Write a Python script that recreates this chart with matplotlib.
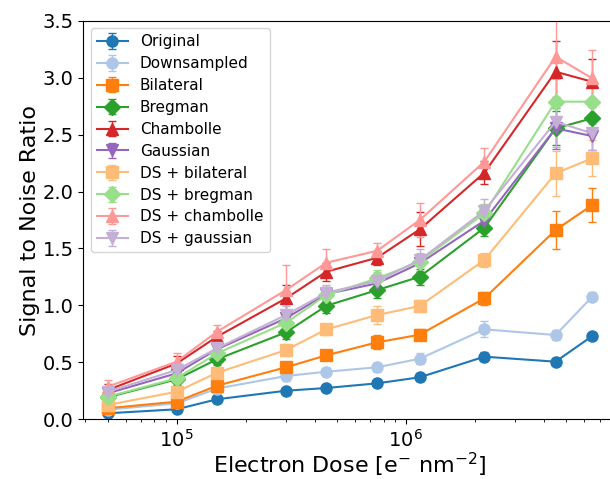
import matplotlib
matplotlib.use("Agg")
import matplotlib.pyplot as plt

dose = [5e4, 1e5, 1.5e5, 3e5, 4.5e5, 7.5e5, 1.15e6, 2.2e6, 4.5e6, 6.5e6]

labels = ["Original", "Downsampled", "Bilateral", "Bregman", "Chambolle",
          "Gaussian", "DS + bilateral", "DS + bregman", "DS + chambolle", "DS + gaussian"]

original = [0.053, 0.088, 0.176, 0.251, 0.275, 0.316, 0.369, 0.55, 0.506, 0.731]
downsampled = [0.085, 0.14, 0.27, 0.38, 0.418, 0.457, 0.532, 0.79, 0.74, 1.076]
bilateral = [0.097, 0.155, 0.295, 0.457, 0.562, 0.676, 0.743, 1.062, 1.662, 1.881]
bregman = [0.193, 0.351, 0.527, 0.764, 0.997, 1.135, 1.252, 1.682, 2.555, 2.643]
chambolle = [0.257, 0.49, 0.725, 1.062, 1.296, 1.419, 1.668, 2.165, 3.052, 2.964]
gaussian = [0.228, 0.404, 0.615, 0.887, 1.1, 1.194, 1.37, 1.744, 2.555, 2.487]
ds_bilateral = [0.126, 0.242, 0.409, 0.608, 0.79, 0.916, 0.995, 1.399, 2.16, 2.292]
ds_bregman = [0.198, 0.36, 0.579, 0.848, 1.091, 1.238, 1.384, 1.809, 2.789, 2.789]
ds_chambolle = [0.286, 0.506, 0.769, 1.135, 1.375, 1.48, 1.75, 2.262, 3.184, 2.994]
ds_gaussian = [0.242, 0.433, 0.623, 0.916, 1.112, 1.214, 1.399, 1.831, 2.613, 2.511]

original_err = [0.02, 0.02, 0.02, 0.02, 0.02, 0.02, 0.03, 0.04, 0.03, 0.03]
downsampled_err = [0.02, 0.03, 0.03, 0.04, 0.03, 0.04, 0.05, 0.07, 0.04, 0.04]
bilateral_err = [0.02, 0.03, 0.04, 0.04, 0.04, 0.06, 0.05, 0.06, 0.17, 0.15]
bregman_err = [0.04, 0.05, 0.05, 0.06, 0.06, 0.07, 0.07, 0.07, 0.15, 0.12]
chambolle_err = [0.05, 0.07, 0.05, 0.12, 0.08, 0.06, 0.15, 0.1, 0.27, 0.2]
gaussian_err = [0.04, 0.05, 0.05, 0.07, 0.06, 0.07, 0.08, 0.08, 0.18, 0.12]
ds_bilateral_err = [0.03, 0.04, 0.05, 0.05, 0.05, 0.08, 0.05, 0.06, 0.2, 0.16]
ds_bregman_err = [0.04, 0.05, 0.06, 0.08, 0.07, 0.07, 0.08, 0.08, 0.2, 0.2]
ds_chambolle_err = [0.06, 0.08, 0.06, 0.22, 0.12, 0.07, 0.15, 0.12, 0.35, 0.25]
ds_gaussian_err = [0.04, 0.05, 0.06, 0.08, 0.07, 0.08, 0.1, 0.1, 0.22, 0.15]

series = [original, downsampled, bilateral, bregman, chambolle,
          gaussian, ds_bilateral, ds_bregman, ds_chambolle, ds_gaussian]
errors = [original_err, downsampled_err, bilateral_err, bregman_err, chambolle_err,
          gaussian_err, ds_bilateral_err, ds_bregman_err, ds_chambolle_err, ds_gaussian_err]
colors = ["#1f77b4", "#aec7e8", "#ff7f0e", "#2ca02c", "#d62728",
          "#9467bd", "#ffbb78", "#98df8a", "#ff9896", "#c5b0d5"]
markers = ["o", "o", "s", "D", "^", "v", "s", "D", "^", "v"]

fig = plt.figure(figsize=(6.1, 4.79), dpi=100)
ax = fig.add_axes([0.1367, 0.1246, 0.874, 0.8322])

for y, e, c, m, lab in zip(series, errors, colors, markers, labels):
    ax.errorbar(dose, y, yerr=e, color=c, marker=m, markersize=8,
                linewidth=1.5, elinewidth=1, capsize=3, label=lab)

ax.set_xscale("log")
ax.set_ylim(0, 3.5)
ax.set_xlim(3.92e4, 8.3e6)
ax.set_yticks([0, 0.5, 1.0, 1.5, 2.0, 2.5, 3.0, 3.5])
ax.tick_params(labelsize=14)
ax.set_xlabel(r"Electron Dose [e$^{-}$ nm$^{-2}$]", fontsize=16, labelpad=0)
ax.set_ylabel("Signal to Noise Ratio", fontsize=16, labelpad=2)
ax.legend(loc="upper left", fontsize=11, handlelength=2.0, labelspacing=0.45)

fig.savefig("out.png", dpi=100)
